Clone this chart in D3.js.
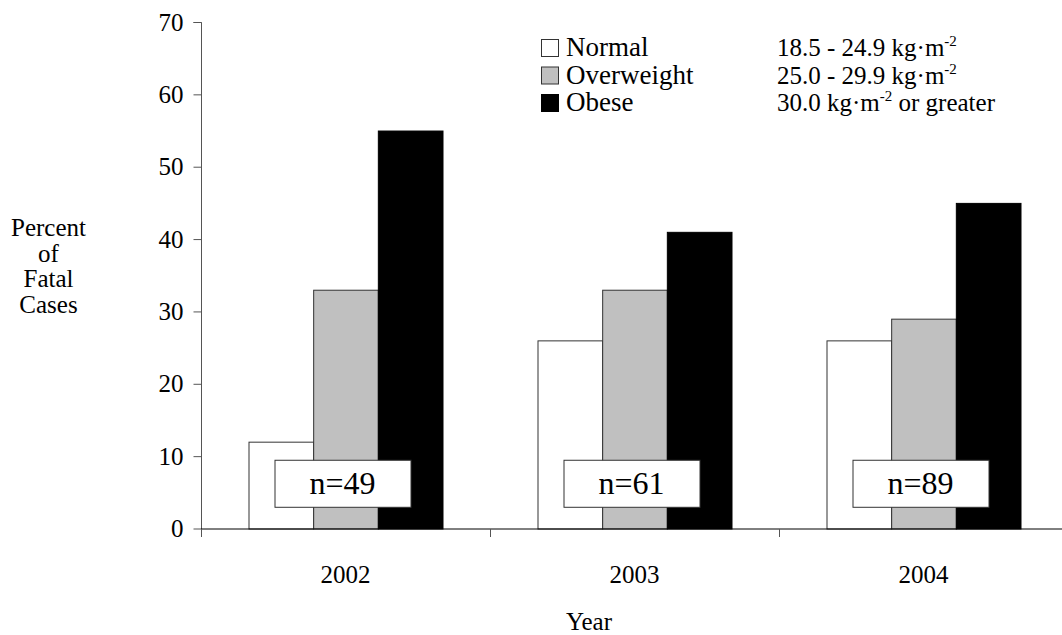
<!DOCTYPE html>
<html><head><meta charset="utf-8">
<script src="https://cdn.jsdelivr.net/npm/d3@7"></script>
<style>body{margin:0;background:#fff}svg{display:block}svg text{font-family:"Liberation Serif","Times New Roman",serif}</style>
</head><body><svg id="c" width="1062" height="635"></svg>
<script>
const years = ["2002", "2003", "2004"];
const seriesNames = ["Normal", "Overweight", "Obese"];
const normal = [12, 26, 26];
const overweight = [33, 33, 29];
const obese = [55, 41, 45];
const sampleSizes = ["n=49", "n=61", "n=89"];
const bmiMain = ["18.5 - 24.9 kg\u00b7m", "25.0 - 29.9 kg\u00b7m", "30.0 kg\u00b7m"];
const bmiSup = ["-2", "-2", "-2"];
const bmiTail = ["", "", " or greater"];
const yTicks = [0, 10, 20, 30, 40, 50, 60, 70];
const yTitle = ["Percent", "of", "Fatal", "Cases"];
const xTitle = "Year";

(function () {
const FF = "Liberation Serif";
const fills = ["#ffffff", "#c0c0c0", "#000000"];
const strokes = ["#333333", "#333333", "#000000"];

const svg = d3.select("#c");
const pL = 201, pR = 1068, pT = 22, pB = 528.5;

const y = d3.scaleLinear().domain([0, 70]).range([pB, pT]);
const x0 = d3.scaleBand().domain(years).range([pL, pR]).padding(0);
const groupW = 194;
const off = (x0.bandwidth() - groupW) / 2;
const x1 = d3.scaleBand().domain(seriesNames).range([off, off + groupW]).padding(0);

const values = [normal, overweight, obese];
const data = [];
years.forEach((yr, i) => seriesNames.forEach((s, j) => data.push({yr, s, j, v: values[j][i]})));

// bars
svg.append("g").selectAll("rect").data(data).join("rect")
  .attr("x", d => x0(d.yr) + x1(d.s) + 0.5)
  .attr("y", d => y(d.v) + 0.5)
  .attr("width", x1.bandwidth())
  .attr("height", d => y(0) - y(d.v))
  .attr("fill", d => fills[d.j])
  .attr("stroke", d => strokes[d.j])
  .attr("stroke-width", 1);

// n boxes
const boxW = 136, boxTop = 9.5, boxBot = 3.0;
const nb = svg.append("g").selectAll("g").data(years).join("g");
nb.append("rect")
  .attr("x", d => x0(d) + x0.bandwidth() / 2 - 3 - boxW / 2 + 0.5)
  .attr("y", d => y(boxTop) + 0.5)
  .attr("width", boxW)
  .attr("height", y(boxBot) - y(boxTop))
  .attr("fill", "#fff").attr("stroke", "#333").attr("stroke-width", 1);
nb.append("text")
  .attr("x", d => x0(d) + x0.bandwidth() / 2 - 3)
  .attr("y", d => (y(boxTop) + y(boxBot)) / 2 + 11)
  .attr("text-anchor", "middle")
  .attr("font-family", FF)
  .attr("font-size", 32)
  .text((d, i) => sampleSizes[i]);

// y axis
const yAxis = d3.axisLeft(y).tickValues(yTicks).tickSize(8).tickPadding(10).tickFormat(d3.format("d"));
const gy = svg.append("g").attr("transform", `translate(${pL + 0.5},0)`).call(yAxis);
gy.select(".domain").attr("stroke", "#555").attr("d", `M-8,${pT + 0.5}H0V${pB + 8}`);
gy.selectAll(".tick line").attr("stroke", "#555");
gy.selectAll(".tick text").attr("font-size", 25).attr("font-family", FF).attr("fill", "#000");

// x axis
const gx = svg.append("g").attr("transform", `translate(0,${pB + 0.5})`);
gx.append("line").attr("x1", pL).attr("x2", pR).attr("stroke", "#000");
const xTickPos = years.map(d => x0(d)).concat([pR]);
gx.selectAll("line.t").data(xTickPos).join("line").attr("class", "t")
  .attr("x1", d => d + 0.5).attr("x2", d => d + 0.5).attr("y1", 0).attr("y2", 8).attr("stroke", "#555");
gx.selectAll("text").data(years).join("text")
  .attr("x", d => x0(d) + x0.bandwidth() / 2)
  .attr("y", 54)
  .attr("text-anchor", "middle")
  .attr("font-family", FF)
  .attr("font-size", 25)
  .text(d => d);

// axis titles
svg.append("text").attr("x", 589).attr("y", 630)
  .attr("text-anchor", "middle").attr("font-family", FF).attr("font-size", 25).text(xTitle);
svg.append("g").selectAll("text").data(yTitle).join("text")
  .attr("x", 48.5).attr("y", (d, i) => 236 + i * 25.5)
  .attr("text-anchor", "middle").attr("font-family", FF).attr("font-size", 25).text(d => d);

// legend
const lg = svg.append("g");
seriesNames.forEach((s, i) => {
  const yy = 39 + i * 27.5;
  lg.append("rect").attr("x", 541.5).attr("y", yy + 0.5).attr("width", 17).attr("height", 17)
    .attr("fill", fills[i]).attr("stroke", i === 2 ? "#000" : "#333");
  lg.append("text").attr("x", 566).attr("y", yy + 17).attr("font-family", FF).attr("font-size", 27).text(s);
  const t = lg.append("text").attr("x", 777).attr("y", yy + 17).attr("font-family", FF).attr("font-size", 25);
  t.append("tspan").text(bmiMain[i]);
  t.append("tspan").attr("dy", -10).attr("font-size", 15).text(bmiSup[i]);
  if (bmiTail[i]) t.append("tspan").attr("dy", 10).text(bmiTail[i]);
});
})();
</script></body></html>
